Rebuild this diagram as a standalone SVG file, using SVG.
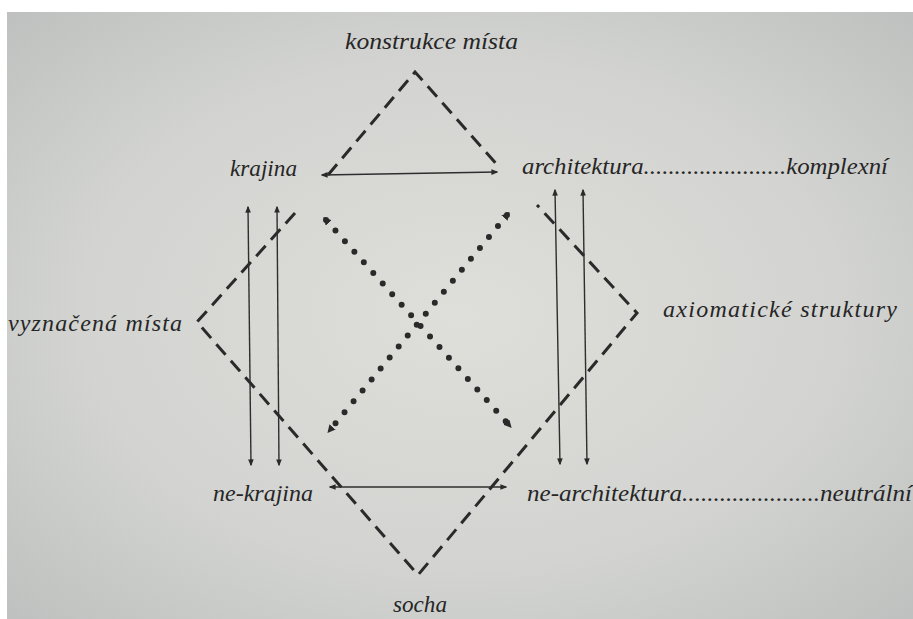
<svg xmlns="http://www.w3.org/2000/svg" width="913" height="619" viewBox="0 0 913 619">
<defs>
<radialGradient id="bg" cx="0.5" cy="0.5" r="0.7">
<stop offset="0" stop-color="#dededa"/>
<stop offset="0.6" stop-color="#d3d4d1"/>
<stop offset="1" stop-color="#bec1bf"/>
</radialGradient>
<marker id="ah" viewBox="0 0 10 8" refX="8" refY="4" markerWidth="7" markerHeight="6" markerUnits="userSpaceOnUse" orient="auto-start-reverse">
<path d="M0,0 L10,4 L0,8 z" fill="#2a2a2a"/>
</marker>
<marker id="dh" viewBox="0 0 10 10" refX="5" refY="5" markerWidth="8" markerHeight="8" markerUnits="userSpaceOnUse" orient="auto-start-reverse">
<path d="M0,0 L10,5 L0,10 z" fill="#2a2a2a"/>
</marker>
<style>
.t{font-family:"Liberation Serif","DejaVu Serif",serif;font-style:italic;font-size:24px;fill:#262626}
.solid{stroke:#2e2e2e;stroke-width:1.4;fill:none}
.dash{stroke:#2a2a2a;stroke-width:3;fill:none;stroke-dasharray:14 8}
.dot{stroke:#2a2a2a;stroke-width:6;fill:none;stroke-dasharray:0 14.2;stroke-linecap:round}
</style>
</defs>
<rect width="913" height="619" fill="#ffffff"/>
<rect x="7" y="12" width="906" height="607" fill="url(#bg)"/>

<g id="connectors">
<polyline class="dash" points="328,175 415,72 500,168"/>
<line class="solid" x1="322" y1="175" x2="497" y2="172" marker-start="url(#ah)" marker-end="url(#ah)"/>
<polyline class="dash" points="295,213 197,322 418,575 637,313 537,205"/>
<line class="solid" x1="248" y1="207" x2="251" y2="465" marker-start="url(#ah)" marker-end="url(#ah)"/>
<line class="solid" x1="277" y1="207" x2="279" y2="465" marker-start="url(#ah)" marker-end="url(#ah)"/>
<line class="solid" x1="555" y1="190" x2="560" y2="464" marker-start="url(#ah)" marker-end="url(#ah)"/>
<line class="solid" x1="583" y1="190" x2="587" y2="464" marker-start="url(#ah)" marker-end="url(#ah)"/>
<line class="solid" x1="330" y1="487" x2="506" y2="487" marker-start="url(#ah)" marker-end="url(#ah)"/>
<line class="dot" x1="326" y1="220" x2="509" y2="425" marker-start="url(#dh)" marker-end="url(#dh)"/>
<line class="dot" x1="507" y1="215" x2="330" y2="430" marker-start="url(#dh)" marker-end="url(#dh)"/>
</g>

<g id="konstrukce"><text class="t" x="345" y="49" textLength="173" lengthAdjust="spacingAndGlyphs">konstrukce místa</text></g>
<g id="krajina"><text class="t" x="230" y="176" textLength="67" lengthAdjust="spacingAndGlyphs">krajina</text></g>
<g id="architektura"><text class="t" x="522" y="174" textLength="366" lengthAdjust="spacingAndGlyphs">architektura.......................komplexní</text></g>
<g id="vyznacena"><text class="t" x="8" y="331" textLength="174" lengthAdjust="spacing">vyznačená místa</text></g>
<g id="axiomaticke"><text class="t" x="663" y="317" textLength="234" lengthAdjust="spacing">axiomatické struktury</text></g>
<g id="ne-krajina"><text class="t" x="213" y="501" textLength="100" lengthAdjust="spacingAndGlyphs">ne-krajina</text></g>
<g id="ne-architektura"><text class="t" x="527" y="501" textLength="385" lengthAdjust="spacingAndGlyphs">ne-architektura......................neutrální</text></g>
<g id="socha"><text class="t" x="393" y="612" textLength="54" lengthAdjust="spacingAndGlyphs">socha</text></g>
</svg>
